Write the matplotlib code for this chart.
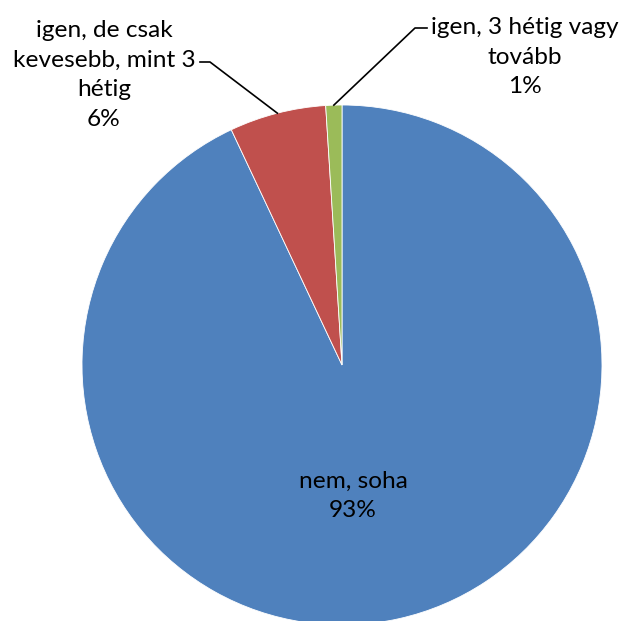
import numpy as np
import matplotlib.pyplot as plt

# kordiagram: valaszok megoszlasa
kategoriak = ['nem, soha', 'igen, de csak\nkevesebb, mint 3\nhétig', 'igen, 3 hétig vagy\ntovább']
ertekek = [93, 6, 1]
szinek = ['#4F81BD', '#C0504D', '#9BBB59']

plt.rcParams['font.family'] = ['Lato', 'DejaVu Sans']

fig = plt.figure(figsize=(6.22, 6.21), dpi=100)
ax = fig.add_axes([0, 0, 1, 1])
wedges, _ = ax.pie(ertekek, colors=szinek, startangle=90, counterclock=False,
                   wedgeprops=dict(edgecolor='white', linewidth=0.6))

R = 260.0
cx, cy = 342, 365
ax.set_xlim(-cx / R, (622 - cx) / R)
ax.set_ylim(-(621 - cy) / R, cy / R)
ax.set_aspect('auto')
ax.axis('off')


def d(px, py):
    return (px - cx) / R, (cy - py) / R


def szel(w):
    t = np.deg2rad((w.theta1 + w.theta2) / 2)
    return np.cos(t), np.sin(t)


fs = 17.6
ls = 1.5
# nem, soha
x, y = d(353, 496)
ax.text(x, y, kategoriak[0] + '\n' + f'{ertekek[0]}%', ha='center', va='center',
        fontsize=fs, linespacing=ls)

# igen, de csak ...
x, y = d(104, 75)
ax.text(x, y, kategoriak[1] + '\n' + f'{ertekek[1]}%', ha='center', va='center',
        fontsize=fs, linespacing=ls)
p0 = d(200, 62)
p1 = d(210, 62)
p2 = szel(wedges[1])
ax.plot([p0[0], p1[0], p2[0]], [p0[1], p1[1], p2[1]], color='black', lw=1.2)

# igen, 3 hetig vagy tovabb
x, y = d(525, 57)
ax.text(x, y, kategoriak[2] + '\n' + f'{ertekek[2]}%', ha='center', va='center',
        fontsize=fs, linespacing=ls)
p0 = d(427, 28)
p1 = d(415, 28)
p2 = szel(wedges[2])
ax.plot([p0[0], p1[0], p2[0]], [p0[1], p1[1], p2[1]], color='black', lw=1.2)

fig.savefig('out.png', dpi=100)
